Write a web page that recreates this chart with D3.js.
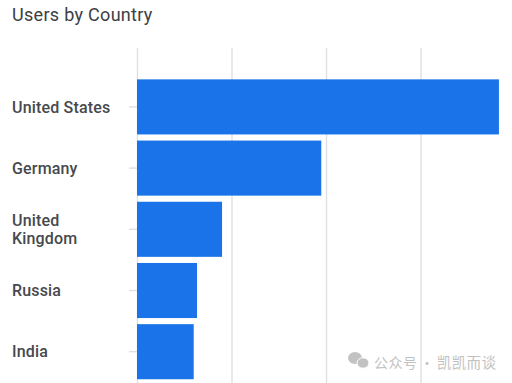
<!DOCTYPE html>
<html>
<head>
<meta charset="utf-8">
<script src="https://cdn.jsdelivr.net/npm/d3@7"></script>
<style>
    html, body { margin: 0; padding: 0; background: #fff; }
    svg { display: block; }
</style>
</head>
<body>
<div id="chart"></div>
<script>
// DATA (no axis numbers in the picture, so values are in grid units x 100)
const countries = ["United States", "Germany", "United Kingdom", "Russia", "India"];
const users = [383, 195, 90, 63.5, 60];
const gridTicks = [0, 100, 200, 300];

const width = 512, height = 383;
const svg = d3.select("#chart").append("svg")
    .attr("width", width)
    .attr("height", height);

const x = d3.scaleLinear().domain([0, 100]).range([137, 231.5]);
const y = d3.scaleBand().domain(countries).range([76.3, 382.3]).paddingInner(0.1).paddingOuter(0.05);
// label baselines sit on whole pixels, a bit off the band centres
const labelY = d3.scalePoint().domain(countries).range([113, 357]);

// TITLE
svg.append("text")
    .attr("x", 12)
    .attr("y", 21)
    .attr("font-family", "Roboto, sans-serif")
    .attr("font-size", 18)
    .attr("letter-spacing", 0.3)
    .attr("fill", "#3c4043")
    .text("Users by Country");

// GRID
svg.append("g")
    .selectAll("line")
    .data(gridTicks)
    .join("line")
    .attr("x1", d => x(d) + 0.5)
    .attr("x2", d => x(d) + 0.5)
    .attr("y1", 48)
    .attr("y2", height)
    .attr("stroke", "#e0e0e0")
    .attr("stroke-width", 1.4);

// Y AXIS
const yAxis = svg.append("g")
    .attr("transform", `translate(${x(0)},0)`)
    .call(d3.axisLeft(y).tickSize(8).tickFormat(""));
yAxis.select(".domain").remove();
yAxis.selectAll("line").attr("stroke", "#e0e0e0").attr("stroke-width", 1.4);

// LABELS
const labels = svg.append("g")
    .attr("font-family", "Roboto, sans-serif")
    .attr("font-size", 16)
    .attr("font-weight", 500)
    .attr("letter-spacing", 0.17)
    .attr("fill", "#46494d");
countries.forEach(name => {
    const lines = name === "United Kingdom" ? ["United", "Kingdom"] : [name];
    lines.forEach((line, i) => {
        labels.append("text")
            .attr("x", 12)
            .attr("y", labelY(name) + (i - (lines.length - 1) / 2) * 18)
            .text(line);
    });
});

// BARS
svg.append("g")
    .selectAll("rect")
    .data(users)
    .join("rect")
    .attr("x", x(0))
    .attr("y", (d, i) => y(countries[i]))
    .attr("width", d => x(d) - x(0))
    .attr("height", y.bandwidth())
    .attr("fill", "#1a73e8");

// WATERMARK
const mark = svg.append("g").attr("fill", "#c2c2c2");
mark.append("ellipse").attr("cx", 355).attr("cy", 358).attr("rx", 7).attr("ry", 6);
mark.append("ellipse").attr("cx", 363).attr("cy", 363).attr("rx", 6).attr("ry", 5.2)
    .attr("stroke", "#fff").attr("stroke-width", 1);
mark.append("text")
    .attr("x", 374)
    .attr("y", 368)
    .attr("font-family", "'Noto Sans CJK SC', sans-serif")
    .attr("font-size", 14)
    .attr("letter-spacing", 0.5)
    .text("公众号");
mark.append("text")
    .attr("x", 420)
    .attr("y", 368)
    .attr("font-family", "'Noto Sans CJK SC', sans-serif")
    .attr("font-size", 14)
    .text("·");
mark.append("text")
    .attr("x", 437)
    .attr("y", 368)
    .attr("font-family", "'Noto Sans CJK SC', sans-serif")
    .attr("font-size", 14.5)
    .attr("letter-spacing", 0.3)
    .text("凯凯而谈");
</script>
</body>
</html>
